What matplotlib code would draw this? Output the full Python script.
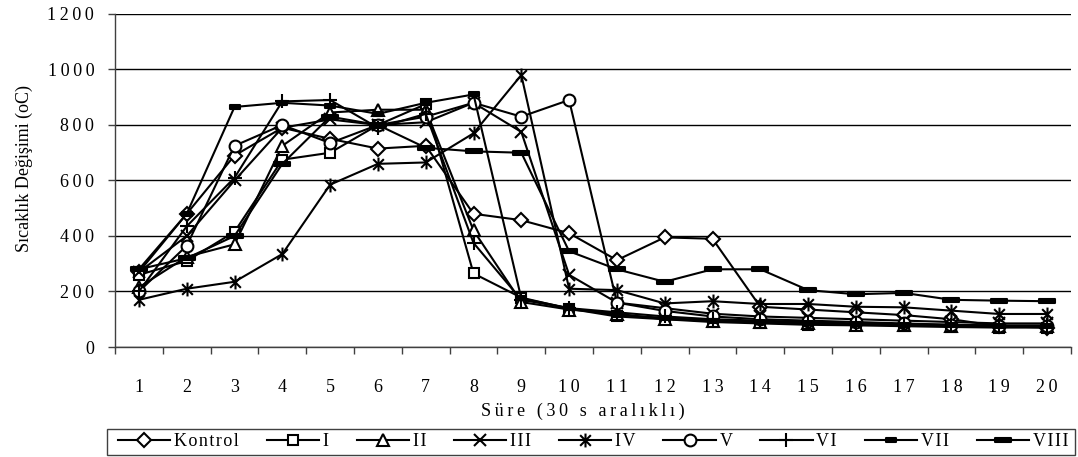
import matplotlib
matplotlib.use("Agg")
import matplotlib.pyplot as plt
from matplotlib.path import Path
from matplotlib.patches import Rectangle
from matplotlib.ticker import FixedLocator, FuncFormatter

plt.rcParams['font.family'] = ['Liberation Serif', 'DejaVu Serif']

# Measurement intervals (30 s each)
intervals = list(range(1, 21))

# Temperature change per sample (oC)
kontrol = [270, 480, 690, 790, 750, 715, 725, 480, 457, 410, 313, 395, 390, 145, 135, 125, 115, 100, 75, 70]
s_i     = [260, 310, 415, 675, 700, 800, 875, 265, 178, 138, 110, 100, 90, 85, 80, 78, 75, 72, 70, 70]
s_ii    = [215, 325, 370, 725, 845, 855, 855, 420, 162, 135, 120, 100, 95, 90, 85, 80, 80, 75, 75, 75]
s_iii   = [270, 400, 600, 790, 820, 800, 810, 880, 775, 260, 160, 140, 120, 110, 105, 100, 95, 90, 85, 85]
s_iv    = [170, 210, 235, 335, 585, 660, 665, 770, 980, 210, 205, 157, 165, 155, 155, 145, 143, 131, 119, 119]
s_v     = [200, 365, 725, 800, 735, 800, 830, 880, 830, 890, 160, 130, 110, 100, 95, 90, 85, 80, 75, 75]
s_vi    = [200, 435, 610, 885, 890, 790, 840, 375, 170, 140, 125, 110, 100, 95, 90, 85, 82, 80, 78, 78]
s_vii   = [280, 480, 865, 880, 870, 840, 880, 910, 175, 140, 115, 105, 95, 90, 85, 82, 80, 78, 75, 75]
s_viii  = [280, 320, 400, 660, 830, 800, 718, 705, 700, 345, 280, 235, 280, 280, 205, 190, 195, 170, 167, 165]

series_names = ["Kontrol", "I", "II", "III", "IV", "V", "VI", "VII", "VIII"]
series_values = [kontrol, s_i, s_ii, s_iii, s_iv, s_v, s_vi, s_vii, s_viii]

y_ticks = [0, 200, 400, 600, 800, 1000, 1200]

THIN = '\u2009'
HAIR = '\u200a'


def spaced(text, gap):
    """Spread the characters of a label apart."""
    return gap.join(text)


# Custom marker shapes
asterisk = Path([(-1, -1), (1, 1), (-1, 1), (1, -1), (0, -1.3), (0, 1.3)],
                [Path.MOVETO, Path.LINETO, Path.MOVETO, Path.LINETO, Path.MOVETO, Path.LINETO])
small_bar = Path([(-1, -0.4), (1, -0.4), (1, 0.4), (-1, 0.4), (-1, -0.4)],
                 [Path.MOVETO, Path.LINETO, Path.LINETO, Path.LINETO, Path.CLOSEPOLY])
wide_bar = Path([(-1, -0.3), (1, -0.3), (1, 0.3), (-1, 0.3), (-1, -0.3)],
                [Path.MOVETO, Path.LINETO, Path.LINETO, Path.LINETO, Path.CLOSEPOLY])

styles = [
    dict(marker='D', ms=7.5, mfc='white'),
    dict(marker='s', ms=7.5, mfc='white'),
    dict(marker='^', ms=8.5, mfc='white'),
    dict(marker='x', ms=8),
    dict(marker=asterisk, ms=10),
    dict(marker='o', ms=8.5, mfc='white'),
    dict(marker='+', ms=10),
    dict(marker=small_bar, ms=7, mfc='black'),
    dict(marker=wide_bar, ms=11, mfc='black'),
]

fig = plt.figure(figsize=(10.78, 4.57), dpi=100)
ax = fig.add_axes([0.1067, 0.2407, 0.8868, 0.7287])

for name, vals, st in zip(series_names, series_values, styles):
    ax.plot(intervals, vals, color='black', lw=1.5, mec='black', mew=1.5,
            label=spaced(name, HAIR), **st)

ax.set_xlim(0.5, 20.5)
ax.set_ylim(0, 1200)
ax.set_yticks(y_ticks)
ax.set_xticks(intervals)
ax.xaxis.set_major_formatter(FuncFormatter(lambda v, p: spaced(str(int(round(v))), THIN)))
ax.yaxis.set_major_formatter(FuncFormatter(lambda v, p: spaced(str(int(round(v))), THIN)))
ax.xaxis.set_minor_locator(FixedLocator([i + 0.5 for i in range(0, 21)]))
ax.tick_params(axis='x', which='major', length=0, pad=23, labelsize=13)
ax.tick_params(axis='x', which='minor', length=5, width=1, direction='out', color='#404040')
ax.tick_params(axis='y', which='major', length=5, width=1, direction='out',
               pad=10, labelsize=13, color='#404040')

ax.yaxis.grid(True, color='black', lw=1)
ax.set_axisbelow(True)
for side in ('top', 'right'):
    ax.spines[side].set_visible(False)
for side in ('left', 'bottom'):
    ax.spines[side].set_color('#404040')
    ax.spines[side].set_linewidth(1)

ax.set_ylabel("Sıcaklık Değişimi (oC)", fontsize=13)
ax.yaxis.set_label_coords(-0.086, 0.535)
ax.set_xlabel(spaced("Süre (30 s aralıklı)", THIN), fontsize=13)
ax.xaxis.set_label_coords(0.489, -0.168)

# Legend row with a separate box around it
fig.patches.append(Rectangle((0.0993, 0.0044), 0.898, 0.0569, transform=fig.transFigure,
                             fill=False, edgecolor='#404040', lw=1))
leg = fig.legend(loc='center left', bbox_to_anchor=(0.1095, 0.0044, 0.8813, 0.0569),
                 mode='expand', ncol=9, fontsize=13, frameon=False,
                 handlelength=2.9, handletextpad=0.2, borderpad=0,
                 columnspacing=0.8, borderaxespad=0)

fig.savefig("out.png", dpi=100)
